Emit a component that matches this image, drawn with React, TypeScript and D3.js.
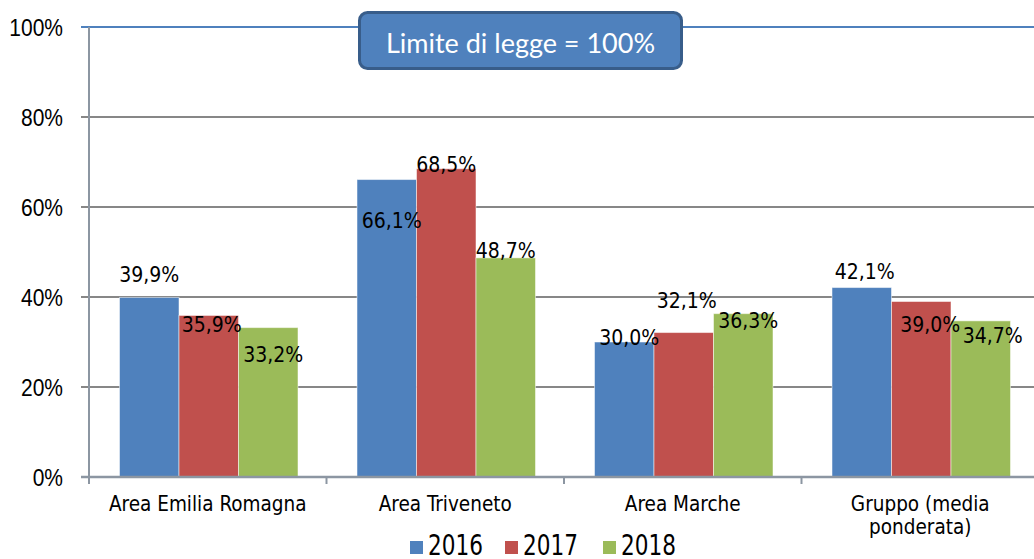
import React, { useRef, useEffect } from "react";
import * as d3 from "d3";

// chart data
const categories = ["Area Emilia Romagna", "Area Triveneto", "Area Marche", "Gruppo (media ponderata)"];
const years = ["2016", "2017", "2018"];
const values2016 = [39.9, 66.1, 30.0, 42.1];
const values2017 = [35.9, 68.5, 32.1, 39.0];
const values2018 = [33.2, 48.7, 36.3, 34.7];
const yTicks = [0, 20, 40, 60, 80, 100];
const limitLabel = "Limite di legge = 100%";

// manual label nudges (dx, dy from bar centre / bar top), as placed in the original
const labelNudge = [
  [[0, -15], [3, 17], [5, 34]],
  [[5, 48], [0, 3], [0, 0]],
  [[5, 3], [3, -25], [5, 14]],
  [[3, -9], [9, 30], [12, 22]],
];

const colors = ["#4F81BD", "#C0504D", "#9BBB59"];

function App() {
  const svgRef = useRef(null);

  useEffect(() => {
    const svg = d3.select(svgRef.current);
    svg.selectAll("*").remove();

    const left = 89;
    const top = 27;
    const bottom = 477;
    const band = 237.5;
    const stretch = "scale(1,1.18)";

    const series = [values2016, values2017, values2018];

    const x = d3.scaleBand().domain(categories).range([left, left + band * categories.length]).padding(0);
    const y = d3.scaleLinear().domain([0, 100]).range([bottom, top]);
    const groupW = 178.5;
    const xs = d3.scaleBand().domain(years).range([0, groupW]).padding(0);
    const groupOff = (x.bandwidth() - groupW) / 2 + 1;

    // gridlines
    svg
      .append("g")
      .selectAll("line")
      .data(yTicks.filter((t) => t > 0))
      .enter()
      .append("line")
      .attr("x1", left - 8)
      .attr("x2", 1034)
      .attr("y1", (d) => y(d))
      .attr("y2", (d) => y(d))
      .style("stroke", (d) => (d === 100 ? "#4F81BD" : "#878787"))
      .style("stroke-width", 2);

    // y tick labels
    svg
      .append("g")
      .selectAll("text")
      .data(yTicks)
      .enter()
      .append("text")
      .attr("transform", (d) => `translate(63,${y(d) + 9}) ${stretch}`)
      .attr("text-anchor", "end")
      .style("font-family", "'Liberation Sans', Arial, sans-serif")
      .style("font-size", "21px")
      .style("fill", "#000")
      .text((d) => d + "%");

    // bars
    series.forEach((vals, si) => {
      svg
        .append("g")
        .selectAll("rect")
        .data(vals)
        .enter()
        .append("rect")
        .attr("x", (d, i) => x(categories[i]) + groupOff + xs(years[si]))
        .attr("y", (d) => y(d))
        .attr("width", xs.bandwidth())
        .attr("height", (d) => bottom - y(d))
        .style("fill", colors[si])
        .style("stroke", "rgba(255,255,255,0.5)")
        .style("stroke-width", 1);
    });

    // axes lines
    svg
      .append("line")
      .attr("x1", left)
      .attr("x2", left)
      .attr("y1", top)
      .attr("y2", bottom + 7)
      .style("stroke", "#8C96A2")
      .style("stroke-width", 2);
    svg
      .append("line")
      .attr("x1", left - 8)
      .attr("x2", 1034)
      .attr("y1", bottom)
      .attr("y2", bottom)
      .style("stroke", "#8C96A2")
      .style("stroke-width", 2.5);
    svg
      .append("g")
      .selectAll("line")
      .data(categories.slice(1))
      .enter()
      .append("line")
      .attr("x1", (d) => x(d))
      .attr("x2", (d) => x(d))
      .attr("y1", bottom)
      .attr("y2", bottom + 7)
      .style("stroke", "#8C96A2")
      .style("stroke-width", 2);

    // data labels
    series.forEach((vals, si) => {
      svg
        .append("g")
        .selectAll("text")
        .data(vals)
        .enter()
        .append("text")
        .attr("x", (d, i) => x(categories[i]) + groupOff + xs(years[si]) + xs.bandwidth() / 2 + labelNudge[i][si][0])
        .attr("y", (d, i) => y(d) + labelNudge[i][si][1])
        .attr("text-anchor", "middle")
        .style("font-family", "'DejaVu Sans Condensed', 'DejaVu Sans', sans-serif")
        .style("font-size", "21px")
        .style("fill", "#000")
        .text((d) => d.toFixed(1).replace(".", ",") + "%");
    });

    // category labels
    const catG = svg.append("g");
    categories.forEach((c) => {
      const lines = c === "Gruppo (media ponderata)" ? ["Gruppo (media", "ponderata)"] : [c];
      lines.forEach((ln, li) => {
        catG
          .append("text")
          .attr("transform", `translate(${x(c) + x.bandwidth() / 2},${511 + li * 23})`)
          .attr("text-anchor", "middle")
          .style("font-family", "'DejaVu Sans Condensed', 'DejaVu Sans', sans-serif")
          .style("font-size", "20.5px")
          .style("fill", "#000")
          .text(ln);
      });
    });

    // legend
    const legendX = [410, 505, 603];
    const lg = svg.append("g");
    years.forEach((yr, i) => {
      lg.append("rect")
        .attr("x", legendX[i])
        .attr("y", 541)
        .attr("width", 13)
        .attr("height", 13)
        .style("fill", colors[i]);
      lg.append("text")
        .attr("transform", `translate(${legendX[i] + 18},555) ${stretch}`)
        .style("font-family", "'DejaVu Sans Condensed', 'DejaVu Sans', sans-serif")
        .style("font-size", "24px")
        .style("fill", "#000")
        .text(yr);
    });

    // limit box
    const box = svg.append("g");
    box
      .append("rect")
      .attr("x", 359.5)
      .attr("y", 12.5)
      .attr("width", 322)
      .attr("height", 56)
      .attr("rx", 8)
      .style("fill", "#4F81BD")
      .style("stroke", "#385D8A")
      .style("stroke-width", 3);
    box
      .append("text")
      .attr("x", 520.5)
      .attr("y", 53)
      .attr("text-anchor", "middle")
      .style("font-family", "Lato, 'Open Sans', sans-serif")
      .style("font-size", "27px")
      .style("fill", "#fff")
      .text(limitLabel);
  }, []);

  return (
    <svg
      ref={svgRef}
      width={1034}
      height={559}
      style={{ position: "absolute", left: 0, top: 0, background: "#fff" }}
    />
  );
}

export default App;
